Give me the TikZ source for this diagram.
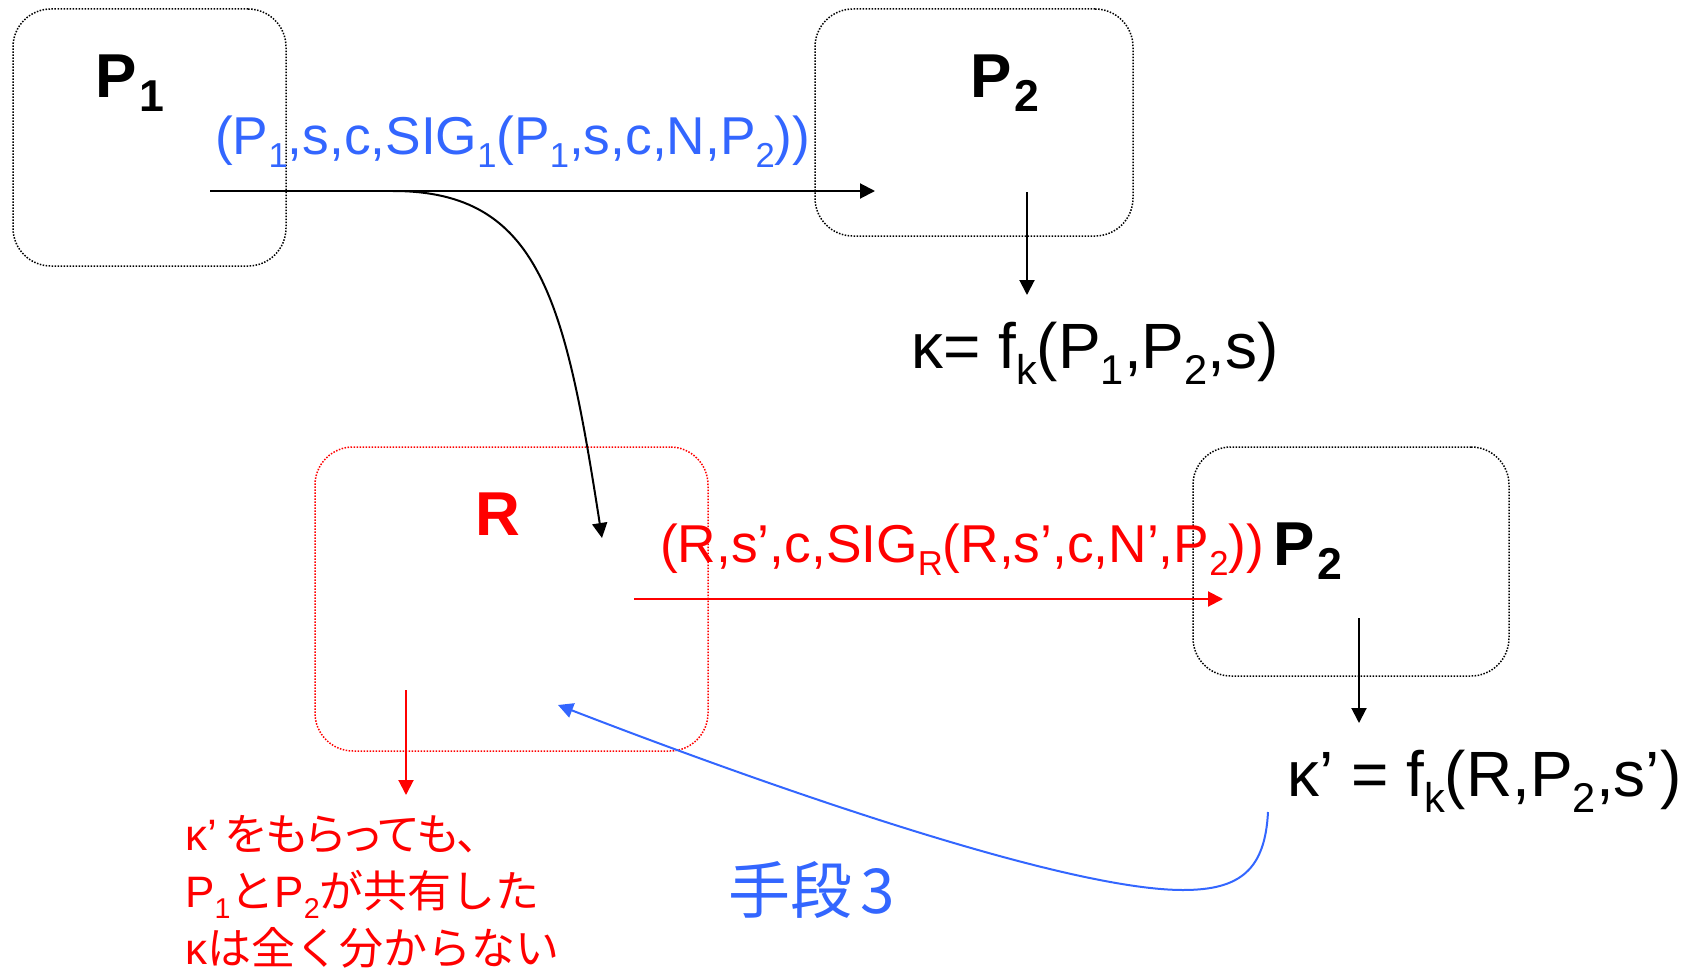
\documentclass[tikz,border=0pt]{standalone}
\usepackage{fontspec}
\setmainfont{Liberation Sans}
\newfontfamily\cjk{Noto Sans CJK JP}
\newfontfamily\cjkp[RawFeature=+palt]{Noto Sans CJK JP}
\usepackage{graphicx}
\usepackage{tikz}
\usetikzlibrary{positioning,arrows.meta}
\definecolor{pptblue}{RGB}{51,102,255}
\newcommand{\sbs}[1]{\raisebox{-0.25em}{\scalebox{0.65}{#1}}}
\newcommand{\sbl}[1]{\kern3pt\raisebox{-0.24em}{\scalebox{0.72}{#1}}}
\tikzset{
  party/.style={draw=black, rounded corners=38pt, dash pattern=on 1.5pt off 1.5pt, line width=1.5pt, inner sep=0pt, outer sep=0pt},
  relay/.style={party, draw=red},
  big/.style={font=\fontsize{62}{70}\selectfont\bfseries, inner sep=0pt, anchor=base west},
  msg/.style={font=\fontsize{53.3}{60}\selectfont, inner sep=0pt, anchor=base west},
  eq/.style={font=\fontsize{64}{72}\selectfont, inner sep=0pt, anchor=base west},
  note/.style={font=\fontsize{44}{57}\selectfont, text=red, inner sep=0pt, anchor=base west},
  Ke/.style={draw=black, line width=2pt, -{Triangle[length=15pt,width=15pt]}},
  Re/.style={Ke, draw=red},
  Be/.style={Ke, draw=pptblue}
}
\begin{document}
\begin{tikzpicture}[x=1pt, y=-1pt]
  \useasboundingbox (0,0) rectangle (1690,974);
  % parties
  \node[party, minimum width=273pt, minimum height=257pt] (box1) at (149.5,137.5) {};
  \node[party, minimum width=318pt, minimum height=227pt] (box2) at (974,122.5) {};
  \node[relay, minimum width=393pt, minimum height=304pt] (boxR) at (511.5,599) {};
  \node[party, minimum width=316pt, minimum height=229pt] (box3) at (1351,561.5) {};
  \node[big] (p1) at (95,97) {P\sbl{1}};
  \node[big] (p2) at (970,97) {P\sbl{2}};
  \node[big, text=red] (r) at (475,535) {R};
  \node[big] (p2b) at (1273,565) {P\sbl{2}};
  % messages and keys
  \node[msg, text=pptblue] (m1) at (215,154) {(P\sbs{1},s,c,SIG\sbs{1}(P\sbs{1},s,c,N,P\sbs{2}))};
  \node[msg, text=red] (m2) at (660,562) {(R,s’,c,SIG\sbs{R}(R,s’,c,N’,P\sbs{2}))};
  \node[eq] (k1) at (911,368) {κ= f\sbs{k}(P\sbs{1},P\sbs{2},s)};
  \node[eq] (k2) at (1287,796) {κ’ = f\sbs{k}(R,P\sbs{2},s’)};
  \node[note] (n1) at (185,850) {κ’\kern8pt{\cjkp をもらっても、}};
  \node[note] (n2) at (185,907) {P\sbs{1}{\cjk と}P\sbs{2}{\cjk が共有した}};
  \node[note] (n3) at (185,964) {κ{\cjk は全く分からない}};
  \node[font=\fontsize{62}{68}\selectfont\cjk, text=pptblue, anchor=base west, inner sep=0pt] (hd) at (728,913) {手段\kern8pt 3};
  % arrow ends
  \coordinate (a1) at (210,191);  \coordinate (a1e) at (875,191);
  \coordinate (c1) at (393,191);  \coordinate (c1e) at (602,538);
  \coordinate (d1) at (1027,192); \coordinate (d1e) at (1027,295);
  \coordinate (a2) at (634,599);  \coordinate (a2e) at (1223,599);
  \coordinate (d2) at (1359,618); \coordinate (d2e) at (1359,723);
  \coordinate (d3) at (406,690);  \coordinate (d3e) at (406,795);
  \coordinate (b1) at (1268,812); \coordinate (b1e) at (558,705);
  \draw[Ke] (a1) -- (a1e);
  \draw[Ke] (c1) .. controls (540,191) and (565,300) .. (c1e);
  \draw[Ke] (d1) -- (d1e);
  \draw[Re] (a2) -- (a2e);
  \draw[Ke] (d2) -- (d2e);
  \draw[Re] (d3) -- (d3e);
  \draw[Be] (b1) .. controls (1265,870) and (1240,890) .. (1183,890) .. controls (1050,890) and (700,760) .. (b1e);
\end{tikzpicture}
\end{document}
